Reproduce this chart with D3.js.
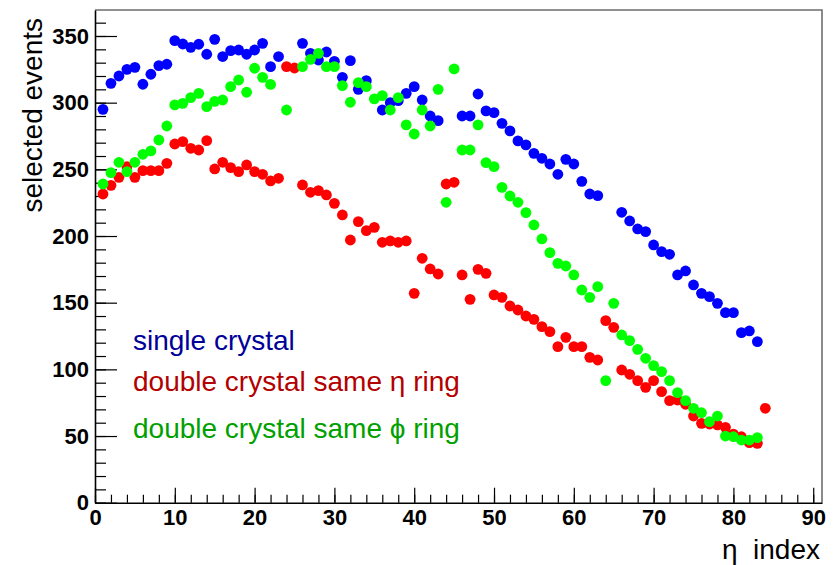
<!DOCTYPE html>
<html>
<head>
<meta charset="utf-8">
<script src="https://cdn.jsdelivr.net/npm/d3@7"></script>
<style>
  body { margin: 0; background: #fff; }
  svg text { font-family: "Liberation Sans", Arial, sans-serif; }
</style>
</head>
<body>
<div id="chart"></div>
<script>
// eta index of each point
var etaIdx = [1,2,3,4,5,6,7,8,9,10,11,12,13,14,15,16,17,18,19,20,
  21,22,23,24,25,26,27,28,29,30,31,32,33,34,35,36,37,38,39,40,
  41,42,43,44,45,46,47,48,49,50,51,52,53,54,55,56,57,58,59,60,
  61,62,63,64,65,66,67,68,69,70,71,72,73,74,75,76,77,78,79,80,
  81,82,83,84];

// single crystal (null = no point drawn)
var singleVals = [295,314.5,320,325,326.5,313.8,321.3,327.8,328.8,346.5,
  344,341.5,343.8,336.3,347.5,334.6,339,339.5,336.3,339.5,
  344.5,327,334.6,null,null,344.5,337,332,338,331,
  319,331.5,310,316.5,null,294.5,300,301.5,307,312,
  302,290,286.5,null,null,290,290,306.5,293.8,292.5,
  284.5,278.8,271.3,268.3,262,258.3,254,246.3,257.5,254,
  241,231.5,230.3,null,null,217.8,211.3,205.3,203.3,193.3,
  188.3,186.3,170.8,173.8,163.3,157,154.5,149.5,142.5,142.5,
  127.5,128.8,120.8,null];

// double crystal, same eta ring
var etaRingVals = [231.5,238,244,252,244,249,249,249,254.5,269,
  270.8,265.8,264.5,271.5,250.3,255.3,251.3,248.3,253.3,248.3,
  246.3,241.3,243.3,327,326,238.3,232.8,234,230.8,224.5,
  215.8,197,210.8,204,206.5,195.3,196.3,195.3,196.3,157,
  183.3,175.3,171.5,239,240.3,170.8,152.5,175,172,155.8,
  154,147.5,144.5,140,137.5,132,128.3,117,124,117,
  117,109,107,136.5,131.5,99.5,96.3,91.5,86.5,91.5,
  83.3,76.5,77,73.8,65,59.5,59,58.3,56.5,51.5,
  49.5,45,44.5,70.8];

// double crystal, same phi ring
var phiRingVals = [239,247.5,255.3,248.3,255.3,261.3,263.8,272,282.5,298.3,
  299.5,303.8,307,297,301,302,312,317,307.8,325.8,
  319,313.7,null,294.5,null,327,332.5,337,327,327,
  312.8,300.3,315,312,302.8,305.3,294.5,303.8,283.3,276.5,
  294.5,282.5,310,225.3,325.3,264.5,264.5,283.3,255,252,
  236.5,230,225.3,217.5,208.3,197.8,187.5,179.5,177.5,170.8,
  159.5,154,162,91.5,149.5,125.8,121.5,115,108.3,102.8,
  98.3,91.5,82.5,76.5,70.8,67.5,60.8,65,50,49.5,
  47,47,48.8,null];

var xTicks = [0,10,20,30,40,50,60,70,80,90];
var yTicks = [0,50,100,150,200,250,300,350];

var width = 836;
var height = 565;

var svg = d3.select('#chart')
    .append('svg')
    .attr('width', width)
    .attr('height', height);

var x = d3.scaleLinear()
    .domain([0, 91.1])
    .range([95, 822]);

var y = d3.scaleLinear()
    .domain([0, 369.5])
    .range([502.7, 10]);

// frame (top and right side)
svg.append('path')
    .attr('d', 'M95,10H822V502.7')
    .attr('fill', 'none')
    .attr('stroke', '#6e6e6e')
    .attr('stroke-width', 1.6);

// minor ticks
svg.append('g')
    .attr('transform', 'translate(0,502.7)')
    .call(d3.axisBottom(x).tickValues(d3.range(0, 92, 2)).tickSize(-8).tickFormat(''))
    .call(g => g.select('.domain').remove())
    .selectAll('line').attr('stroke', '#000').attr('stroke-width', 1.2);

svg.append('g')
    .attr('transform', 'translate(95,0)')
    .call(d3.axisLeft(y).tickValues(d3.range(0, 361, 10)).tickSize(-11).tickFormat(''))
    .call(g => g.select('.domain').remove())
    .selectAll('line').attr('stroke', '#000').attr('stroke-width', 1.2);

// major ticks and labels
var xAxis = svg.append('g')
    .attr('transform', 'translate(0,502.7)')
    .call(d3.axisBottom(x).tickValues(xTicks).tickSize(-15).tickPadding(7).tickSizeOuter(0));

var yAxis = svg.append('g')
    .attr('transform', 'translate(95,0)')
    .call(d3.axisLeft(y).tickValues(yTicks).tickSize(-22).tickPadding(6).tickSizeOuter(0));

[xAxis, yAxis].forEach(function(ax) {
    ax.select('.domain').attr('stroke', '#000').attr('stroke-width', 1.6);
    ax.selectAll('.tick line').attr('stroke', '#000').attr('stroke-width', 1.2);
    ax.selectAll('.tick text')
        .attr('fill', '#000')
        .style('font-family', '"Liberation Sans", Arial, sans-serif')
        .style('font-weight', 'bold')
        .style('font-size', '22px');
});

// axis titles
svg.append('text')
    .attr('transform', 'translate(42,18) rotate(-90)')
    .attr('text-anchor', 'end')
    .style('font-size', '28px')
    .text('selected events');

svg.append('text')
    .attr('x', 820)
    .attr('y', 559)
    .attr('text-anchor', 'end')
    .style('font-size', '28px')
    .attr('xml:space', 'preserve')
    .text('\u03b7  index');

// points
var series = [
    {vals: singleVals, color: '#0000ff'},
    {vals: etaRingVals, color: '#ff0000'},
    {vals: phiRingVals, color: '#00ff00'}
];

series.forEach(function(s) {
    var pts = etaIdx.map((e, i) => ({e: e, v: s.vals[i]})).filter(d => d.v != null);
    svg.append('g')
        .selectAll('circle')
        .data(pts)
        .enter()
        .append('circle')
        .attr('cx', d => x(d.e))
        .attr('cy', d => y(d.v))
        .attr('r', 5.4)
        .attr('fill', s.color);
});

// legend text
var legendText = [
    {t: 'single crystal', c: '#000099', y: 350},
    {t: 'double crystal same \u03b7 ring', c: '#b30000', y: 390.5},
    {t: 'double crystal same \u03d5 ring', c: '#00a000', y: 438}
];

svg.append('g')
    .selectAll('text')
    .data(legendText)
    .enter()
    .append('text')
    .attr('x', 133)
    .attr('y', d => d.y)
    .attr('fill', d => d.c)
    .style('font-size', '28px')
    .text(d => d.t);
</script>
</body>
</html>
